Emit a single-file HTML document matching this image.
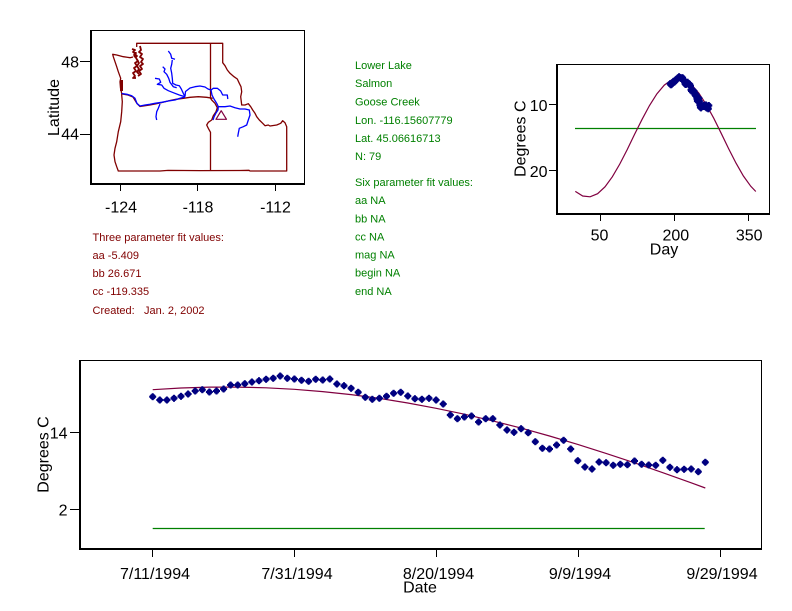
<!DOCTYPE html>
<html>
<head>
<meta charset="utf-8">
<style>
html,body{margin:0;padding:0;background:#fff;}
svg{display:block;}
text{font-family:"Liberation Sans",Arial,sans-serif;}
.t16{font-size:16px;fill:#000;}
.g11{font-size:11px;fill:#008000;}
.m11{font-size:11px;fill:#800000;}
</style>
</head>
<body>
<svg width="792" height="611" viewBox="0 0 792 611" xmlns="http://www.w3.org/2000/svg">
<defs>
<g id="p"><circle r="3"/><rect x="-3.5" y="-1" width="7" height="2"/><rect x="-1" y="-3.5" width="2" height="7"/></g>
</defs>
<rect width="792" height="611" fill="#fff"/>

<!-- ================= MAP ================= -->
<g fill="none" stroke-linejoin="round">
  <polyline stroke="#800000" stroke-width="1.3" points="
  136.7,47 136.7,43.3 222.7,43.3 222.7,62.7 225,65.7 227.3,70 230,73.3 234,76.7 237.3,79 239.3,83.3 241,86.7 241.7,91.7 240.7,96.7 241.7,105 245,105 248.3,103.7 250.7,106.7 252.7,110 255,113.3 256.7,116.7 259.3,120 262.7,123.3 265,125.7 268.3,125 270,126 276.7,125 280.7,123.3 282.7,120.7 285,122.7 286.7,126.7 286.7,171
  250,171 249,170.3 240,170.5 200,170.6 168,170.4 160,171 118.3,171
  116.7,166.7 115,161.7 114,155 115,148.3 116.7,141.7 118.3,131.7 120.7,121.7 121.7,111.7 122.3,101.7 121.7,95 121.7,93.3 120.5,88 120,81.7 120.7,78.3 118.3,71.7 116.7,66.7 115,61.7 113.3,56.7 112.7,54.3 116.7,55 123.3,56.7 130,57.7 133,57"/>
  <rect x="120" y="80" width="3" height="11" fill="#800000" stroke="none"/>
  <g stroke="#800000" stroke-width="1.8">
    <polyline points="132,49 135,50 133,52 136,53 134,55 137,56 135,58"/>
    <polyline points="140,46 141,50 139,52 142,54 140,57 143,59 141,62 143,64 140,66 142,69 139,71 141,74 138,76"/>
    <polyline points="136,58 138,61 135,63 137,66 134,68 136,71 133,73 135,76 133,78 136,78"/>
    <polyline points="137,60 139,63 137,66 139,69 137,72 139,74"/>
    <polyline points="134,53 136,55 134,57"/>
  </g>
  <polyline stroke="#800000" stroke-width="1.3" points="210.5,43.3 210.5,98.3"/>
  <polyline stroke="#800000" stroke-width="1.3" points="122,94 128,95 133,97 137,103.5 140,106.5 150,105 160,103 170,100.5 176,99.3 183.3,98.3 190,97.3 198.3,96.7 206.7,97.3 212.7,98.3"/>
  <polyline stroke="#800000" stroke-width="1.3" points="210.5,98.3 211.7,100 215,103.3 217.3,107.7 216,111.7 213.3,115.7 211.7,120 208.3,122.3 206.7,125 208.3,128.3 210.5,132.3 210.5,171"/>

  <g stroke="#0000ff" stroke-width="1.3">
    <polyline points="121.7,93.5 127,94.3 131.7,95.7 135,98.3 137,103.5 140,106 145,105 150,104.3 155,103.3 161.7,102.3 168.3,101 175,100 180,98.3 185,97"/>
    <polyline points="160,104 158.3,108.3 156.7,111.7 156,116.7 156.7,120"/>
    <polyline points="168.3,51 170.7,54.3 171.7,58.3 175,59.3"/>
    <polyline points="172.3,60 171.7,64.3 170.7,68.3 171.7,73.3 172.3,78.3 172.7,83.3 176,85 179.3,85.7 181.3,89 183.3,93.3 185,96.7"/>
    <polyline points="162.7,66.7 165,69 164,71.7 166.7,74.3 168.7,78.3 170,82.3 173.3,86.7 176.7,87.7"/>
    <polyline points="155,78.3 159.3,79 160.7,82.3 157.3,84.3 161.7,85 164,88.3 168.3,90.7 173.3,92.7 179.3,95 185,96.7"/>
    <polyline points="185,96.7 185.5,91.5 190,88 195,86.7 200,86 205,87 208,89 211,90"/>
    <polyline points="211,90 213.3,88.3 217.3,88.3 220.7,91 222.7,95 227.3,95 227.8,99"/>
    <polyline points="211,90 212,95 214,99 216.7,103.3 218.3,106.7 218,110 216,113 214,117 213,120"/>
    <polyline points="218.3,106.7 220,106.7 225,106.7 230,106 235,107.7 240,109 245,109 249.3,110 250,115 248.3,120 246.7,125 243.3,126.7 239.3,128.3 238.3,133.3 237.7,136.7"/>
  </g>
  <polygon points="216,119.3 226.5,119.3 221.2,110.7" stroke="#800040" stroke-width="1.2"/>
</g>
<g shape-rendering="crispEdges">
  <line x1="90" y1="30.5" x2="305" y2="30.5" stroke="#000" stroke-width="1"/>
  <line x1="304.5" y1="30" x2="304.5" y2="185" stroke="#000" stroke-width="1"/>
  <rect x="90" y="30" width="2" height="155" fill="#000"/>
  <rect x="90" y="183" width="215" height="2" fill="#000"/>
  <line x1="80" y1="61.5" x2="90" y2="61.5" stroke="#000"/>
  <line x1="80" y1="134.5" x2="90" y2="134.5" stroke="#000"/>
  <line x1="120.5" y1="185" x2="120.5" y2="191" stroke="#000"/>
  <line x1="197.5" y1="185" x2="197.5" y2="191" stroke="#000"/>
  <line x1="275.5" y1="185" x2="275.5" y2="191" stroke="#000"/>
</g>
<text class="t16" x="79" y="67.4" text-anchor="end">48</text>
<text class="t16" x="79" y="139.7" text-anchor="end">44</text>
<text class="t16" x="121" y="212.5" text-anchor="middle">-124</text>
<text class="t16" x="198" y="212.5" text-anchor="middle">-118</text>
<text class="t16" x="275.5" y="212.5" text-anchor="middle">-112</text>
<text class="t16" transform="translate(58.8,107.5) rotate(-90)" text-anchor="middle">Latitude</text>

<!-- ================= TEXT BLOCKS ================= -->
<text class="g11" x="355" y="69">Lower Lake</text>
<text class="g11" x="355" y="87">Salmon</text>
<text class="g11" x="355" y="105.5">Goose Creek</text>
<text class="g11" x="355" y="124">Lon. -116.15607779</text>
<text class="g11" x="355" y="142">Lat. 45.06616713</text>
<text class="g11" x="355" y="160">N: 79</text>
<text class="g11" x="355" y="186">Six parameter fit values:</text>
<text class="g11" x="355" y="204">aa NA</text>
<text class="g11" x="355" y="222.5">bb NA</text>
<text class="g11" x="355" y="240.5">cc NA</text>
<text class="g11" x="355" y="258.5">mag NA</text>
<text class="g11" x="355" y="276.5">begin NA</text>
<text class="g11" x="355" y="295">end NA</text>

<text class="m11" x="92.5" y="241">Three parameter fit values:</text>
<text class="m11" x="92.5" y="259">aa -5.409</text>
<text class="m11" x="92.5" y="277">bb 26.671</text>
<text class="m11" x="92.5" y="295">cc -119.335</text>
<text class="m11" x="92.5" y="314">Created:</text>
<text class="m11" x="144" y="314">Jan. 2, 2002</text>

<!-- ================= TOP RIGHT CHART ================= -->
<line x1="575" y1="128.5" x2="756" y2="128.5" stroke="#008000" stroke-width="1.2"/>
<polyline fill="none" stroke="#800040" stroke-width="1.2" points="575.3,191.4 582.7,196.0 590.1,196.8 597.6,193.7 605.0,186.8 612.4,176.7 619.8,164.0 627.2,149.6 634.6,134.3 642.1,119.3 649.5,105.5 656.9,93.8 664.3,85.1 671.7,79.8 678.2,78.3 684.1,79.6 691.5,84.6 698.9,93.2 706.3,104.7 713.8,118.3 721.2,133.3 728.6,148.6 736.0,163.1 743.4,176.0 750.8,186.3 755.8,191.5"/>
<g fill="#000080">
<use href="#p" x="670.2" y="83.6"/><use href="#p" x="670.7" y="84.7"/><use href="#p" x="671.2" y="84.7"/><use href="#p" x="671.7" y="84.2"/><use href="#p" x="672.2" y="83.5"/><use href="#p" x="672.7" y="82.7"/><use href="#p" x="673.2" y="81.7"/><use href="#p" x="673.7" y="81.3"/><use href="#p" x="674.2" y="82.1"/><use href="#p" x="674.7" y="81.7"/>
<use href="#p" x="675.2" y="81.1"/><use href="#p" x="675.7" y="79.7"/><use href="#p" x="676.2" y="79.7"/><use href="#p" x="676.7" y="79.3"/><use href="#p" x="677.2" y="78.7"/><use href="#p" x="677.7" y="78.3"/><use href="#p" x="678.2" y="77.8"/><use href="#p" x="678.6" y="77.5"/><use href="#p" x="679.1" y="76.7"/><use href="#p" x="679.6" y="77.5"/>
<use href="#p" x="680.1" y="77.7"/><use href="#p" x="680.6" y="78.1"/><use href="#p" x="681.1" y="78.5"/><use href="#p" x="681.6" y="77.8"/><use href="#p" x="682.1" y="78.0"/><use href="#p" x="682.6" y="77.7"/><use href="#p" x="683.1" y="79.4"/><use href="#p" x="683.6" y="80.0"/><use href="#p" x="684.1" y="80.8"/><use href="#p" x="684.6" y="82.2"/>
<use href="#p" x="685.1" y="83.8"/><use href="#p" x="685.6" y="84.5"/><use href="#p" x="686.1" y="84.2"/><use href="#p" x="686.6" y="83.5"/><use href="#p" x="687.1" y="82.5"/><use href="#p" x="687.5" y="82.2"/><use href="#p" x="688.0" y="83.4"/><use href="#p" x="688.5" y="84.3"/><use href="#p" x="689.0" y="84.5"/><use href="#p" x="689.5" y="84.2"/>
<use href="#p" x="690.0" y="84.7"/><use href="#p" x="690.5" y="86.1"/><use href="#p" x="691.0" y="89.8"/><use href="#p" x="691.5" y="91.0"/><use href="#p" x="692.0" y="90.4"/><use href="#p" x="692.5" y="90.1"/><use href="#p" x="693.0" y="92.1"/><use href="#p" x="693.5" y="91.0"/><use href="#p" x="694.0" y="91.0"/><use href="#p" x="694.5" y="93.1"/>
<use href="#p" x="695.0" y="94.8"/><use href="#p" x="695.5" y="95.6"/><use href="#p" x="696.0" y="94.4"/><use href="#p" x="696.5" y="95.7"/><use href="#p" x="696.9" y="98.7"/><use href="#p" x="697.4" y="100.9"/><use href="#p" x="697.9" y="101.2"/><use href="#p" x="698.4" y="99.8"/><use href="#p" x="698.9" y="98.2"/><use href="#p" x="699.4" y="101.2"/>
<use href="#p" x="699.9" y="105.1"/><use href="#p" x="700.4" y="107.2"/><use href="#p" x="700.9" y="107.9"/><use href="#p" x="701.4" y="105.5"/><use href="#p" x="701.9" y="105.7"/><use href="#p" x="702.4" y="106.6"/><use href="#p" x="702.9" y="106.3"/><use href="#p" x="703.4" y="106.4"/><use href="#p" x="703.9" y="105.2"/><use href="#p" x="704.4" y="106.3"/>
<use href="#p" x="704.9" y="106.5"/><use href="#p" x="705.4" y="106.6"/><use href="#p" x="705.8" y="104.9"/><use href="#p" x="706.3" y="107.3"/><use href="#p" x="706.8" y="108.1"/><use href="#p" x="707.3" y="108.0"/><use href="#p" x="707.8" y="107.9"/><use href="#p" x="708.3" y="108.8"/><use href="#p" x="708.8" y="105.5"/>
</g>
<g shape-rendering="crispEdges">
  <line x1="556" y1="64.5" x2="770" y2="64.5" stroke="#000"/>
  <line x1="769.5" y1="64" x2="769.5" y2="215" stroke="#000"/>
  <rect x="556" y="64" width="2" height="151" fill="#000"/>
  <rect x="556" y="213" width="214" height="2" fill="#000"/>
  <line x1="549" y1="104.5" x2="556" y2="104.5" stroke="#000"/>
  <line x1="549" y1="170.5" x2="556" y2="170.5" stroke="#000"/>
  <line x1="600.5" y1="215" x2="600.5" y2="221" stroke="#000"/>
  <line x1="674.5" y1="215" x2="674.5" y2="221" stroke="#000"/>
  <line x1="748.5" y1="215" x2="748.5" y2="221" stroke="#000"/>
</g>
<text class="t16" x="547.5" y="111" text-anchor="end">10</text>
<text class="t16" x="547.5" y="177" text-anchor="end">20</text>
<text class="t16" x="599.5" y="240.5" text-anchor="middle">50</text>
<text class="t16" x="675.8" y="240.5" text-anchor="middle">200</text>
<text class="t16" x="749.2" y="240.5" text-anchor="middle">350</text>
<text class="t16" x="664" y="254.5" text-anchor="middle">Day</text>
<text class="t16" transform="translate(525.5,138.7) rotate(-90)" text-anchor="middle">Degrees C</text>

<!-- ================= BOTTOM CHART ================= -->
<line x1="152.7" y1="528.5" x2="704.7" y2="528.5" stroke="#008000" stroke-width="1.2"/>
<polyline fill="none" stroke="#800040" stroke-width="1.2" points="152.7,389.7 181.0,388.0 209.4,387.1 237.7,387.1 266.1,387.8 294.4,389.3 322.7,391.6 351.1,394.6 379.4,398.4 407.8,403.0 436.1,408.3 464.4,414.2 492.8,420.9 521.1,428.1 549.5,436.0 577.8,444.4 606.1,453.4 634.5,462.8 662.8,472.7 691.2,482.8 705.3,488.0"/>
<g fill="#000080">
<use href="#p" x="152.7" y="396.7"/><use href="#p" x="159.8" y="400"/><use href="#p" x="166.9" y="400"/><use href="#p" x="174.0" y="398.3"/><use href="#p" x="181.0" y="396.3"/><use href="#p" x="188.1" y="394"/><use href="#p" x="195.2" y="391"/><use href="#p" x="202.3" y="389.7"/><use href="#p" x="209.4" y="392"/><use href="#p" x="216.5" y="391"/>
<use href="#p" x="223.6" y="389"/><use href="#p" x="230.6" y="385"/><use href="#p" x="237.7" y="385"/><use href="#p" x="244.8" y="383.7"/><use href="#p" x="251.9" y="382"/><use href="#p" x="259.0" y="380.7"/><use href="#p" x="266.1" y="379.3"/><use href="#p" x="273.2" y="378.3"/><use href="#p" x="280.2" y="376"/><use href="#p" x="287.3" y="378.3"/>
<use href="#p" x="294.4" y="379"/><use href="#p" x="301.5" y="380.3"/><use href="#p" x="308.6" y="381.3"/><use href="#p" x="315.7" y="379.3"/><use href="#p" x="322.7" y="380"/><use href="#p" x="329.8" y="379"/><use href="#p" x="336.9" y="384"/><use href="#p" x="344.0" y="385.7"/><use href="#p" x="351.1" y="388.3"/><use href="#p" x="358.2" y="392.3"/>
<use href="#p" x="365.3" y="397.3"/><use href="#p" x="372.3" y="399.3"/><use href="#p" x="379.4" y="398.3"/><use href="#p" x="386.5" y="396.3"/><use href="#p" x="393.6" y="393.3"/><use href="#p" x="400.7" y="392.3"/><use href="#p" x="407.8" y="396"/><use href="#p" x="414.9" y="398.7"/><use href="#p" x="421.9" y="399.3"/><use href="#p" x="429.0" y="398.3"/>
<use href="#p" x="436.1" y="400"/><use href="#p" x="443.2" y="404"/><use href="#p" x="450.3" y="415"/><use href="#p" x="457.4" y="418.7"/><use href="#p" x="464.4" y="417"/><use href="#p" x="471.5" y="416"/><use href="#p" x="478.6" y="422"/><use href="#p" x="485.7" y="418.7"/><use href="#p" x="492.8" y="418.7"/><use href="#p" x="499.9" y="425"/>
<use href="#p" x="507.0" y="430"/><use href="#p" x="514.0" y="432.3"/><use href="#p" x="521.1" y="428.7"/><use href="#p" x="528.2" y="432.7"/><use href="#p" x="535.3" y="441.7"/><use href="#p" x="542.4" y="448.3"/><use href="#p" x="549.5" y="449"/><use href="#p" x="556.6" y="445"/><use href="#p" x="563.6" y="440.3"/><use href="#p" x="570.7" y="449"/>
<use href="#p" x="577.8" y="460.7"/><use href="#p" x="584.9" y="467"/><use href="#p" x="592.0" y="469"/><use href="#p" x="599.1" y="462"/><use href="#p" x="606.1" y="462.7"/><use href="#p" x="613.2" y="465.3"/><use href="#p" x="620.3" y="464.3"/><use href="#p" x="627.4" y="464.7"/><use href="#p" x="634.5" y="461"/><use href="#p" x="641.6" y="464.3"/>
<use href="#p" x="648.7" y="465"/><use href="#p" x="655.7" y="465.3"/><use href="#p" x="662.8" y="460.3"/><use href="#p" x="669.9" y="467.3"/><use href="#p" x="677.0" y="469.7"/><use href="#p" x="684.1" y="469.3"/><use href="#p" x="691.2" y="469"/><use href="#p" x="698.3" y="471.7"/><use href="#p" x="705.3" y="462.3"/>
</g>
<g shape-rendering="crispEdges">
  <line x1="79" y1="360.5" x2="762" y2="360.5" stroke="#000"/>
  <line x1="761.5" y1="360" x2="761.5" y2="550" stroke="#000"/>
  <rect x="79" y="360" width="2" height="190" fill="#000"/>
  <rect x="79" y="548" width="683" height="2" fill="#000"/>
  <line x1="70" y1="432.5" x2="80" y2="432.5" stroke="#000"/>
  <line x1="70" y1="509.5" x2="80" y2="509.5" stroke="#000"/>
  <line x1="152.5" y1="550" x2="152.5" y2="557" stroke="#000"/>
  <line x1="294.5" y1="550" x2="294.5" y2="557" stroke="#000"/>
  <line x1="436.5" y1="550" x2="436.5" y2="557" stroke="#000"/>
  <line x1="578.5" y1="550" x2="578.5" y2="557" stroke="#000"/>
  <line x1="720.5" y1="550" x2="720.5" y2="557" stroke="#000"/>
</g>
<text class="t16" x="67.5" y="438.3" text-anchor="end">14</text>
<text class="t16" x="67.5" y="515.3" text-anchor="end">2</text>
<text class="t16" x="155" y="579" text-anchor="middle">7/11/1994</text>
<text class="t16" x="297" y="579" text-anchor="middle">7/31/1994</text>
<text class="t16" x="438.5" y="579" text-anchor="middle">8/20/1994</text>
<text class="t16" x="580" y="579" text-anchor="middle">9/9/1994</text>
<text class="t16" x="722" y="579" text-anchor="middle">9/29/1994</text>
<text class="t16" x="420" y="592.3" text-anchor="middle">Date</text>
<text class="t16" transform="translate(48.3,454.5) rotate(-90)" text-anchor="middle">Degrees C</text>
</svg>
</body>
</html>
